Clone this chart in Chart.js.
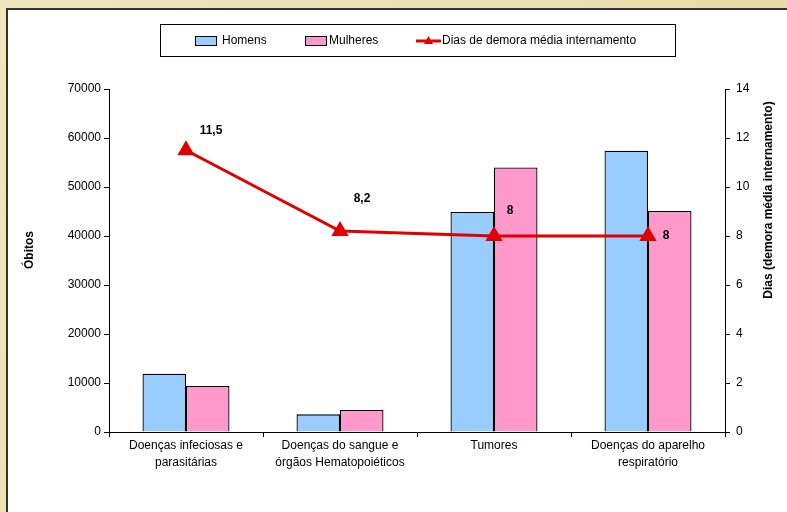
<!DOCTYPE html>
<html>
<head>
<meta charset="utf-8">
<script src="https://cdn.jsdelivr.net/npm/chart.js@4.4.1/dist/chart.umd.min.js"></script>
<style>
  html, body { margin: 0; padding: 0; background: #ebe1b0; }
  #wrap { width: 787px; height: 512px; position: relative; }
</style>
</head>
<body>
<div id="wrap"><canvas id="chart"></canvas></div>
<script>
// Data
const categories = [
  ["Doenças infeciosas e", "parasitárias"],
  ["Doenças do sangue e", "órgãos Hematopoiéticos"],
  "Tumores",
  ["Doenças do aparelho", "respiratório"]
];
const homens = [11900, 3600, 44900, 57400];
const mulheres = [9400, 4500, 54000, 45100];
const diasDemora = [11.5, 8.2, 8, 8];
const diasLabels = ["11,5", "8,2", "8", "8"];

const FONT = "'Liberation Sans', Arial, sans-serif";
const RED = "#e00000";

// Parchment frame and white panel
const backgroundPlugin = {
  id: 'panel',
  beforeDraw(chart) {
    const c = chart.ctx;
    const w = chart.width, h = chart.height;
    c.save();
    const g = c.createLinearGradient(0, 0, w, h);
    g.addColorStop(0, '#efe6bd');
    g.addColorStop(1, '#e4d79f');
    c.fillStyle = g;
    c.fillRect(0, 0, w, h);
    c.fillStyle = '#ffffff';
    c.fillRect(8, 10, w - 8, h - 10);
    c.strokeStyle = '#333333';
    c.lineWidth = 2;
    c.beginPath();
    c.moveTo(7, h);
    c.lineTo(7, 9);
    c.lineTo(w, 9);
    c.stroke();
    c.restore();
  }
};

// Legend box, axis titles and value labels
const decorPlugin = {
  id: 'decor',
  afterDraw(chart) {
    const c = chart.ctx;
    c.save();
    // legend
    c.strokeStyle = '#000';
    c.lineWidth = 1;
    c.strokeRect(160.5, 24.5, 515, 32);
    c.font = "12px " + FONT;
    c.textBaseline = 'middle';
    const ly = 41;
    const ds = chart.data.datasets;
    // Homens
    c.fillStyle = ds[0].backgroundColor;
    c.fillRect(195, 36, 22, 10);
    c.strokeRect(195.5, 36.5, 21, 9);
    c.fillStyle = '#000';
    c.fillText(ds[0].label, 222, ly);
    // Mulheres
    c.fillStyle = ds[1].backgroundColor;
    c.fillRect(305, 36, 22, 10);
    c.strokeRect(305.5, 36.5, 21, 9);
    c.fillStyle = '#000';
    c.fillText(ds[1].label, 329, ly);
    // Line
    c.strokeStyle = RED;
    c.lineWidth = 3;
    c.beginPath();
    c.moveTo(416, ly);
    c.lineTo(441, ly);
    c.stroke();
    c.fillStyle = RED;
    c.beginPath();
    c.moveTo(428.5, ly - 5);
    c.lineTo(433, ly + 3);
    c.lineTo(424, ly + 3);
    c.closePath();
    c.fill();
    c.fillStyle = '#000';
    c.fillText(ds[2].label, 442, ly);

    // axis titles
    c.font = "bold 12px " + FONT;
    c.textAlign = 'center';
    c.save();
    c.translate(30, 250);
    c.rotate(-Math.PI / 2);
    c.fillText("Óbitos", 0, 0);
    c.restore();
    c.save();
    c.translate(769, 200);
    c.rotate(-Math.PI / 2);
    c.fillText("Dias (demora média internamento)", 0, 0);
    c.restore();

    // value labels for the line
    const offsets = [[25, -20], [22, -32], [16, -25], [18, 0]];
    const meta = chart.getDatasetMeta(2);
    meta.data.forEach((pt, i) => {
      c.fillText(diasLabels[i], pt.x + offsets[i][0], pt.y + offsets[i][1]);
    });
    c.restore();
  }
};

const ctx = document.getElementById('chart').getContext('2d');
new Chart(ctx, {
  type: 'bar',
  data: {
    labels: categories,
    datasets: [
      {
        label: 'Homens',
        data: homens,
        backgroundColor: '#99ccff',
        borderColor: '#000',
        borderWidth: 1.3,
        yAxisID: 'y',
        order: 1
      },
      {
        label: 'Mulheres',
        data: mulheres,
        backgroundColor: '#ff99cc',
        borderColor: '#000',
        borderWidth: 1.3,
        yAxisID: 'y',
        order: 1
      },
      {
        type: 'line',
        label: 'Dias de demora média internamento',
        data: diasDemora,
        borderColor: RED,
        backgroundColor: RED,
        borderWidth: 3,
        pointStyle: 'triangle',
        pointRadius: 7,
        pointBackgroundColor: RED,
        pointBorderColor: RED,
        tension: 0,
        fill: false,
        yAxisID: 'y1',
        order: 0
      }
    ]
  },
  options: {
    responsive: true,
    maintainAspectRatio: false,
    animation: false,
    layout: { padding: { left: 0, right: 0, top: 89, bottom: 0 } },
    datasets: {
      bar: { categoryPercentage: 0.565, barPercentage: 1 }
    },
    plugins: {
      legend: { display: false },
      tooltip: { enabled: false }
    },
    scales: {
      x: {
        grid: { display: true, drawOnChartArea: false, drawTicks: true, tickLength: 5, color: '#000', offset: true },
        border: { color: '#000', width: 1 },
        ticks: { color: '#000', font: { family: FONT, size: 12, lineHeight: 1.4 }, padding: 0, maxRotation: 0, autoSkip: false },
        afterFit(scale) { scale.height = 80; }
      },
      y: {
        position: 'left',
        min: 0,
        max: 70000,
        grid: { drawOnChartArea: false, drawTicks: true, tickLength: 5, color: '#000' },
        border: { color: '#000', width: 1 },
        ticks: {
          stepSize: 10000, color: '#000', font: { family: FONT, size: 12 }, padding: 3,
          callback: v => String(v)
        },
        afterFit(scale) { scale.width = 109; }
      },
      y1: {
        position: 'right',
        min: 0,
        max: 14,
        grid: { drawOnChartArea: false, drawTicks: true, tickLength: 5, color: '#000' },
        border: { color: '#000', width: 1 },
        ticks: {
          stepSize: 2, color: '#000', font: { family: FONT, size: 12 }, padding: 6,
          callback: v => String(v)
        },
        afterFit(scale) { scale.width = 62; }
      }
    }
  },
  plugins: [backgroundPlugin, decorPlugin]
});
</script>
</body>
</html>
